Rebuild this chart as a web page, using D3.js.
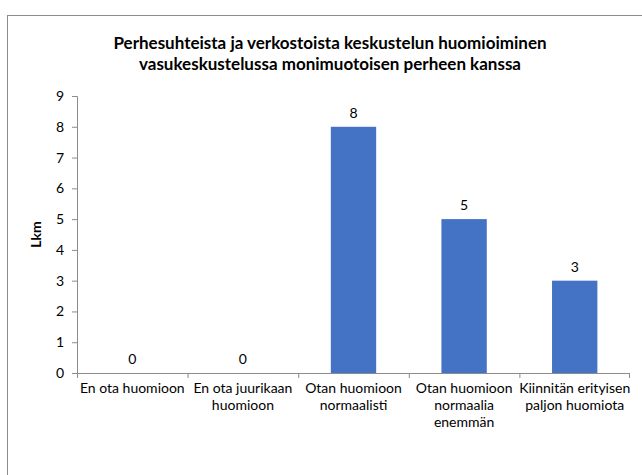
<!DOCTYPE html>
<html>
<head>
<meta charset="utf-8">
<script src="https://cdn.jsdelivr.net/npm/d3@7"></script>
<style>
  body { margin: 0; background: #fff; }
  svg text { font-family: Lato, "Open Sans", sans-serif; fill: #000; }
</style>
</head>
<body>
<svg id="chart"></svg>
<script>
// data
const categories = [
    ["En ota huomioon"],
    ["En ota juurikaan", "huomioon"],
    ["Otan huomioon", "normaalisti"],
    ["Otan huomioon", "normaalia", "enemmän"],
    ["Kiinnitän erityisen", "paljon huomiota"]
];
const values = [0, 0, 8, 5, 3];
const yTicks = [0, 1, 2, 3, 4, 5, 6, 7, 8, 9];
const titleLines = [
    "Perhesuhteista ja verkostoista keskustelun huomioiminen",
    "vasukeskustelussa monimuotoisen perheen kanssa"
];
const yLabel = "Lkm";

const width = 642, height = 475;
const margin = { top: 96, right: 12, bottom: 102, left: 77 };
const innerW = width - margin.left - margin.right;
const innerH = height - margin.top - margin.bottom;

const svg = d3.select("#chart").attr("width", width).attr("height", height);

// chart frame
svg.append("rect")
    .attr("x", 7.5).attr("y", 15.5)
    .attr("width", 700).attr("height", 500)
    .attr("fill", "none")
    .attr("stroke", "#8c8c8c");

// title
svg.append("text")
    .attr("x", 330).attr("y", 49)
    .attr("text-anchor", "middle")
    .style("font-size", "17px")
    .style("font-weight", "bold")
    .selectAll("tspan")
    .data(titleLines)
    .join("tspan")
    .attr("x", 330)
    .attr("dy", (d, i) => i === 0 ? 0 : 21)
    .text(d => d);

const g = svg.append("g").attr("transform", `translate(${margin.left},${margin.top})`);

const x = d3.scaleBand()
    .domain(d3.range(categories.length))
    .range([0, innerW])
    .paddingInner(0.59)
    .paddingOuter(0.295);

const xTicks = d3.scaleBand().domain(d3.range(categories.length)).range([0, innerW]);

const y = d3.scaleLinear().domain([0, 9]).range([innerH, 0]);

// y axis
const yAxis = g.append("g")
    .call(d3.axisLeft(y).tickValues(yTicks).tickSize(5).tickPadding(8).tickFormat(d3.format("d")));
yAxis.selectAll("text").style("font-size", "14px").attr("fill", "#000");
yAxis.selectAll("line,path").attr("stroke", "#8c8c8c");
yAxis.select(".domain").attr("d", `M-5,0.5H0.5V${innerH}`);

// x axis line and ticks
const xAxis = g.append("g").attr("transform", `translate(0,${innerH})`);
xAxis.append("line")
    .attr("x1", 0).attr("x2", innerW)
    .attr("y1", 0.5).attr("y2", 0.5)
    .attr("stroke", "#8c8c8c");
xAxis.selectAll(".xt")
    .data(d3.range(categories.length + 1))
    .join("line")
    .attr("class", "xt")
    .attr("x1", i => i < categories.length ? xTicks(i) + 0.5 : innerW - 0.5)
    .attr("x2", i => i < categories.length ? xTicks(i) + 0.5 : innerW - 0.5)
    .attr("y1", 0).attr("y2", 5)
    .attr("stroke", "#8c8c8c");

// category labels
xAxis.selectAll(".xl")
    .data(categories)
    .join("text")
    .attr("class", "xl")
    .attr("text-anchor", "middle")
    .style("font-size", "14px")
    .attr("transform", (d, i) => `translate(${xTicks(i) + xTicks.bandwidth() / 2},20)`)
    .selectAll("tspan")
    .data(d => d)
    .join("tspan")
    .attr("x", 0)
    .attr("dy", (d, i) => i === 0 ? 0 : 17)
    .text(d => d);

// y label
svg.append("text")
    .attr("transform", `translate(41,${margin.top + innerH / 2}) rotate(-90)`)
    .attr("text-anchor", "middle")
    .style("font-size", "14px")
    .style("font-weight", "bold")
    .text(yLabel);

// bars
g.selectAll(".bar")
    .data(values)
    .join("rect")
    .attr("class", "bar")
    .attr("x", (d, i) => x(i))
    .attr("y", d => y(d))
    .attr("width", x.bandwidth())
    .attr("height", d => innerH - y(d))
    .attr("fill", "#4472c4");

// value labels
g.selectAll(".val")
    .data(values)
    .join("text")
    .attr("class", "val")
    .attr("x", (d, i) => x(i) + x.bandwidth() / 2)
    .attr("y", d => y(d) - 9)
    .attr("text-anchor", "middle")
    .style("font-size", "14px")
    .text(d => d);
</script>
</body>
</html>
